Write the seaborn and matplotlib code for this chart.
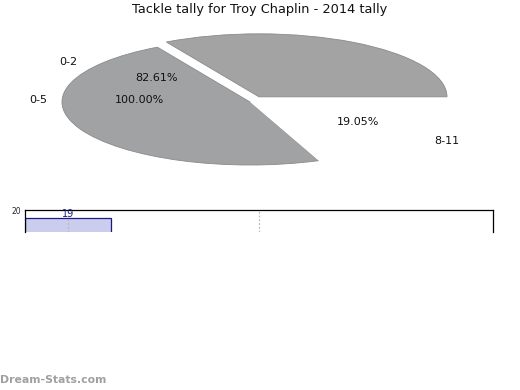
import matplotlib
matplotlib.use("Agg")
import matplotlib.pyplot as plt
import seaborn as sns
import pandas as pd

sns.set_style("white")
plt.rcParams['font.family'] = ['DejaVu Sans']

# ---- data ----
title = "Tackle tally for Troy Chaplin - 2014 tally"
slice_sizes = [33.2, 47.75, 19.05]
slice_labels = ["0-2", "0-5", "8-11"]
pct_labels = ["82.61%", "100.00%", "19.05%"]
slice_colors = ["#a3a3a3", "#a1a2a4", "#ffffff"]
explode = [0.095, 0.0, 0.0]

bar_cats = ["2014"]
bar_vals = [19]
ytick_vals = [20]

W, H = 520, 390
fig = plt.figure(figsize=(W / 100, H / 100), dpi=100)

# ---- pie (squashed) ----
cx, cy, rx, ry = 250, 102, 188, 63
lim = 1.3
axp = fig.add_axes([(cx - lim * rx) / W, (H - cy - lim * ry) / H,
                    2 * lim * rx / W, 2 * lim * ry / H])
wedges, _ = axp.pie(slice_sizes, colors=slice_colors, explode=explode,
                    startangle=0, counterclock=True,
                    wedgeprops=dict(edgecolor="#8a8a8a", linewidth=0.6))
wedges[2].set_linewidth(0)
axp.set_aspect("auto")
axp.set_xlim(-lim, lim)
axp.set_ylim(-lim, lim)
axp.axis("off")

label_pos = [(-0.968, 0.635), (-1.128, 0.03), (1.048, -0.62)]
pct_pos = [(-0.495, 0.38), (-0.59, 0.03), (0.574, -0.317)]
for t, (x, y) in zip(slice_labels, label_pos):
    axp.text(x, y, t, ha="center", va="center", fontsize=8, color="#111111")
for t, (x, y) in zip(pct_labels, pct_pos):
    axp.text(x, y, t, ha="center", va="center", fontsize=8, color="#111111")

fig.text(0.5, 1 - 10 / H, title, ha="center", va="center", fontsize=9.3,
         color="#111111")

# ---- bar chart (cut off) ----
ax_left, ax_right, ax_top, ax_bot = 25, 493, 210, 232
axb = fig.add_axes([ax_left / W, (H - ax_bot) / H,
                    (ax_right - ax_left) / W, (ax_bot - ax_top) / H])
df = pd.DataFrame({"cat": bar_cats, "val": bar_vals})
sns.barplot(data=df, x="cat", y="val", ax=axb, width=0.8,
            color="#ccccee", edgecolor="#1a1a80", linewidth=0.9,
            saturation=1)
unit = 107.5
axb.set_xlim(-0.4, -0.4 + (ax_right - ax_left) / unit)
pxu = 7.5
axb.set_ylim(20 - (ax_bot - ax_top) / pxu, 20)
axb.set_xticks([0, (259 - 68) / unit])
axb.set_xticklabels([])
axb.grid(axis="x", linestyle=(0, (1.5, 1.5)), color="#bbbbbb", linewidth=0.9)
axb.set_axisbelow(False)
axb.set_yticks(ytick_vals)
axb.set_yticklabels([str(v) for v in ytick_vals], fontsize=5.5)
axb.tick_params(axis="y", length=2, pad=1)
axb.tick_params(axis="x", length=0)
axb.set_xlabel("")
axb.set_ylabel("")
for s in ["top", "left", "right"]:
    axb.spines[s].set_visible(True)
    axb.spines[s].set_color("#000000")
    axb.spines[s].set_linewidth(0.9)
axb.spines["bottom"].set_visible(False)
for c in axb.containers:
    axb.bar_label(c, labels=[str(v) for v in bar_vals], fontsize=7,
                  color="#1a1a80", padding=-1, clip_on=False)

fig.text(0, 1 - 380 / H, "Dream-Stats.com", ha="left", va="center",
         fontsize=7.8, fontweight="bold", color="#a0a0a0")

fig.savefig("out.png", dpi=100)
